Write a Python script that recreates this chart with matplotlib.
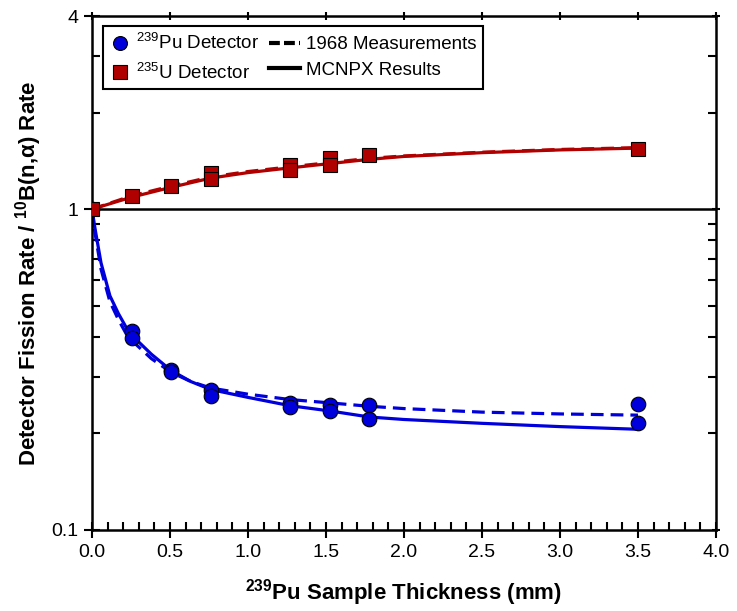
import matplotlib
matplotlib.use('Agg')
import matplotlib.pyplot as plt
from matplotlib.ticker import FixedLocator, NullFormatter
from matplotlib.lines import Line2D
from matplotlib.legend_handler import HandlerLine2D

# measured points (239Pu and 235U detectors)
pu_x = [0.0, 0.254, 0.254, 0.508, 0.508, 0.762, 0.762, 1.27, 1.27, 1.524, 1.524, 1.778, 1.778, 3.5, 3.5]
pu_y = [1.0, 0.418, 0.397, 0.316, 0.310, 0.274, 0.261, 0.248, 0.242, 0.245, 0.235, 0.246, 0.221, 0.247, 0.216]

u_x = [0.0, 0.254, 0.508, 0.762, 0.762, 1.27, 1.27, 1.524, 1.524, 1.778, 3.5]
u_y = [1.0, 1.097, 1.179, 1.296, 1.239, 1.376, 1.328, 1.443, 1.376, 1.479, 1.536]

# curves
pu_cx = [0.0, 0.02, 0.058, 0.115, 0.17, 0.224, 0.254, 0.381, 0.508, 0.635, 0.762, 1.0, 1.27, 1.524, 1.778, 2.0, 2.5, 3.0, 3.5]
pu_mcnpx = [1.0, 0.867, 0.68, 0.537, 0.472, 0.424, 0.405, 0.353, 0.314, 0.290, 0.274, 0.259, 0.244, 0.235, 0.225, 0.221, 0.215, 0.210, 0.206]
pu_1968 = [1.0, 0.84, 0.65, 0.515, 0.452, 0.405, 0.390, 0.342, 0.310, 0.290, 0.277, 0.265, 0.255, 0.249, 0.243, 0.239, 0.233, 0.230, 0.228]

u_cx = [0.0, 0.254, 0.508, 0.762, 1.0, 1.27, 1.524, 1.778, 2.0, 2.5, 3.0, 3.5]
u_mcnpx = [1.0, 1.09, 1.17, 1.25, 1.30, 1.345, 1.387, 1.43, 1.46, 1.50, 1.53, 1.55]
u_1968 = [1.0, 1.10, 1.18, 1.26, 1.31, 1.355, 1.397, 1.44, 1.465, 1.505, 1.535, 1.555]

xticks = [0, 0.5, 1, 1.5, 2, 2.5, 3, 3.5, 4]
xticklabels = ['0.0', '0.5', '1.0', '1.5', '2.0', '2.5', '3.0', '3.5', '4.0']
xminor = [0.1, 0.2, 0.3, 0.4, 0.6, 0.7, 0.8, 0.9, 1.1, 1.2, 1.3, 1.4, 1.6, 1.7, 1.8, 1.9,
          2.1, 2.2, 2.3, 2.4, 2.6, 2.7, 2.8, 2.9, 3.1, 3.2, 3.3, 3.4, 3.6, 3.7, 3.8, 3.9]
yticks = [0.1, 1, 4]
yticklabels = ['0.1', '1', '4']
yminor = [0.2, 0.3, 0.4, 0.5, 0.6, 0.7, 0.8, 0.9, 2, 3]

red = '#B00000'
blue = '#0000DD'

plt.rcParams['font.family'] = ['Liberation Sans', 'DejaVu Sans']
plt.rcParams['mathtext.fontset'] = 'custom'
plt.rcParams['mathtext.rm'] = 'Liberation Sans'
plt.rcParams['mathtext.bf'] = 'Liberation Sans:bold'


class LongLine(HandlerLine2D):
    # line handle that reaches further left than the marker handles
    def create_artists(self, legend, orig_handle, xdescent, ydescent, width, height, fontsize, trans):
        extra = 0.55 * fontsize
        y = height / 2 - ydescent
        line = Line2D([-xdescent - extra, width - xdescent], [y, y])
        self.update_prop(line, orig_handle, legend)
        line.set_transform(trans)
        return [line]


fig = plt.figure(figsize=(7.37, 6.11), dpi=100)
ax = fig.add_axes([0.1248, 0.1326, 0.8467, 0.8412])

ax.axhline(1.0, color='black', lw=1.8, zorder=1)

ax.plot(u_cx, u_1968, color=red, lw=2.3, ls=(0, (4, 2.2)), zorder=2)
ax.plot(u_cx, u_mcnpx, color=red, lw=2.3, zorder=2)
ax.plot(pu_cx, pu_1968, color=blue, lw=2.3, ls=(0, (4, 2.2)), zorder=2)
ax.plot(pu_cx, pu_mcnpx, color=blue, lw=2.3, zorder=2)

ax.plot(pu_x, pu_y, 'o', color=blue, mec='black', mew=0.8, ms=10.5, zorder=3)
ax.plot(u_x, u_y, 's', color=red, mec='black', mew=0.8, ms=9.5, zorder=4)

ax.set_yscale('log')
ax.set_xlim(0, 4.0)
ax.set_ylim(0.1, 4)

ax.xaxis.set_major_locator(FixedLocator(xticks))
ax.set_xticklabels(xticklabels)
ax.xaxis.set_minor_locator(FixedLocator(xminor))
ax.yaxis.set_major_locator(FixedLocator(yticks))
ax.set_yticklabels(yticklabels)
ax.yaxis.set_minor_locator(FixedLocator(yminor))
ax.yaxis.set_minor_formatter(NullFormatter())

ax.tick_params(which='major', direction='inout', length=12, width=1.5, labelsize=14, pad=4,
               top=True, right=True)
ax.tick_params(which='minor', direction='in', length=6, width=1.5, right=True, top=False)
for t in ax.xaxis.get_major_ticks():
    t.tick2line.set_markersize(6)
for t in ax.yaxis.get_major_ticks():
    t.tick2line.set_markersize(6)

for s in ax.spines.values():
    s.set_linewidth(1.8)

ax.set_xlabel(r'$^{\mathbf{239}}$Pu Sample Thickness (mm)', fontsize=16, fontweight='bold', labelpad=12)
ax.set_ylabel(r'Detector Fission Rate / $^{\mathbf{10}}$B(n,$\mathbf{\alpha}$) Rate', fontsize=16,
              fontweight='bold', labelpad=5)

h_pu = Line2D([], [], marker='o', ls='none', color=blue, mec='black', mew=0.8, ms=10)
h_u = Line2D([], [], marker='s', ls='none', color=red, mec='black', mew=0.8, ms=9.5)
h_68 = Line2D([], [], color='black', lw=3, ls=(0, (2.6, 1.0)))
h_mc = Line2D([], [], color='black', lw=3)
labels = [r'$^{239}$Pu Detector', r'$^{235}$U Detector', '1968 Measurements', 'MCNPX Results']
leg = ax.legend([h_pu, h_u, h_68, h_mc], labels, ncol=2, loc='upper left',
                bbox_to_anchor=(0.0176, 0.9805), borderaxespad=0,
                fontsize=13.5, frameon=True, fancybox=False, edgecolor='black', framealpha=1,
                handlelength=1.1, handletextpad=0.3, columnspacing=1.1,
                labelspacing=0.45, borderpad=0.35,
                handler_map={h_68: LongLine(), h_mc: LongLine()})
leg.get_frame().set_linewidth(1.5)

fig.savefig('out.png', dpi=100)
